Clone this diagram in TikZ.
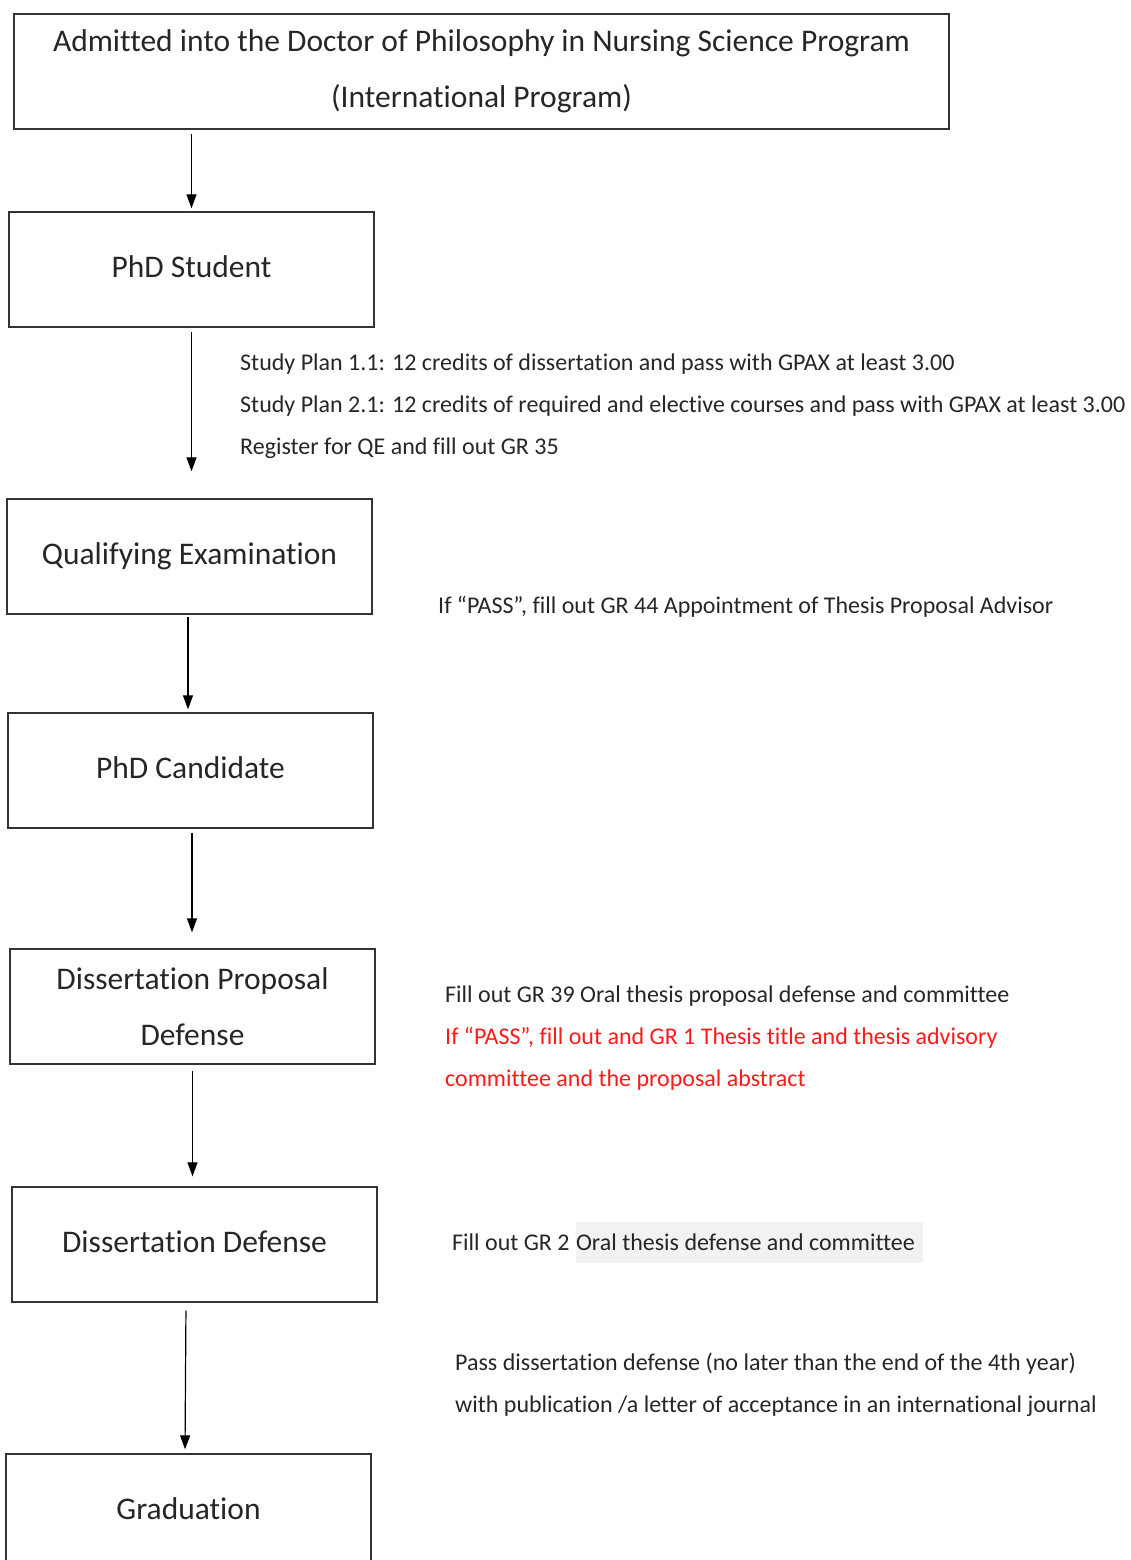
\documentclass[tikz,border=0pt]{standalone}
\usepackage{fontspec}
\setmainfont{Carlito}[Ligatures=NoCommon]
\usepackage{xcolor}
\usetikzlibrary{arrows.meta,backgrounds,calc}

\definecolor{boxline}{HTML}{333333}
\definecolor{inktext}{HTML}{262626}
\definecolor{notered}{HTML}{FF1A1A}
\definecolor{markgray}{HTML}{F2F2F2}

\tikzset{
  stage/.style={draw=boxline, line width=1.4pt, minimum width=365pt, minimum height=115pt,
    inner sep=0pt, text=inktext, font=\fontsize{31.5}{56}\selectfont},
  onerow/.style={stage, text height=22pt, text depth=7pt},
  note/.style={anchor=base west, inner sep=0pt, text=inktext, font=\fontsize{24}{28}\selectfont},
  flow/.style={-{Triangle[length=14pt,width=10pt]}, line width=1.2pt, shorten <=4pt, shorten >=3pt},
}

\begin{document}
\begin{tikzpicture}[x=1pt,y=-1pt]
    \useasboundingbox (0,0) rectangle (1131,1560);
    % stages
    \node[stage, minimum width=935pt, align=center] (admit) at (481.5,71.5)
        {Admitted into the Doctor of Philosophy in Nursing Science Program\\(International Program)};
    \node[onerow] (student)   at (191.5,269.5)  {PhD Student};
    \node[onerow] (qualify)   at (189.5,556.5)  {Qualifying Examination};
    \node[onerow] (candidate) at (190.5,770.5)  {PhD Candidate};
    \node[stage, align=center] (proposal) at (192.5,1006.5) {Dissertation Proposal\\Defense};
    \node[onerow] (defense)   at (194.5,1244.5) {Dissertation Defense};
    \node[onerow] (graduate)  at (188.5,1511.5) {Graduation};

    % notes
    \node[note] (plan1) at (240,370) {Study Plan 1.1: 12 credits of dissertation and pass with GPAX at least 3.00};
    \node[note] (plan2) at (240,412) {Study Plan 2.1: 12 credits of required and elective courses and pass with GPAX at least 3.00};
    \node[note] (qereg) at (240,454) {Register for QE and fill out GR 35};
    \node[note] (gr44)  at (438,613) {If “PASS”, fill out GR 44 Appointment of Thesis Proposal Advisor};
    \node[note] (gr39)  at (445,1002) {Fill out GR 39 Oral thesis proposal defense and committee};
    \node[note, text=notered] (gr1a) at (445,1044) {If “PASS”, fill out and GR 1 Thesis title and thesis advisory};
    \node[note, text=notered] (gr1b) at (445,1086) {committee and the proposal abstract};
    \node[note] (gr2)   at (452,1250) {Fill out GR 2};
    \node[note] (gr2b)  at ([xshift=6pt]gr2.base east) {Oral thesis defense and committee};
    \node[note] (pass1) at (455,1370) {Pass dissertation defense (no later than the end of the 4th year)};
    \node[note] (pass2) at (455,1412) {with publication /a letter of acceptance in an international journal};
    \begin{pgfonlayer}{background}
        \fill[markgray] ($(gr2b.base west)+(0,-28)$) rectangle ($(gr2b.base east)+(8,13)$);
    \end{pgfonlayer}

    % arrows
    \draw[flow] (admit.south -| student.north) -- (student.north);
    \draw[flow, shorten >=27pt] (student.south) -- (student.south |- qualify.north);
    \draw[flow, shorten <=2pt] ([xshift=-1.5pt]qualify.south) -- ([xshift=-1.5pt]qualify.south |- candidate.north);
    \draw[flow, shorten >=16pt] ([xshift=1.5pt]candidate.south) -- ([xshift=1.5pt]candidate.south |- proposal.north);
    \draw[flow, shorten <=6pt, shorten >=10pt] (proposal.south) -- ([xshift=-2pt]defense.north);
    \draw[flow, shorten <=8pt, shorten >=4pt] ([xshift=-8.5pt]defense.south) -- ([xshift=-3.5pt]graduate.north);
\end{tikzpicture}
\end{document}
